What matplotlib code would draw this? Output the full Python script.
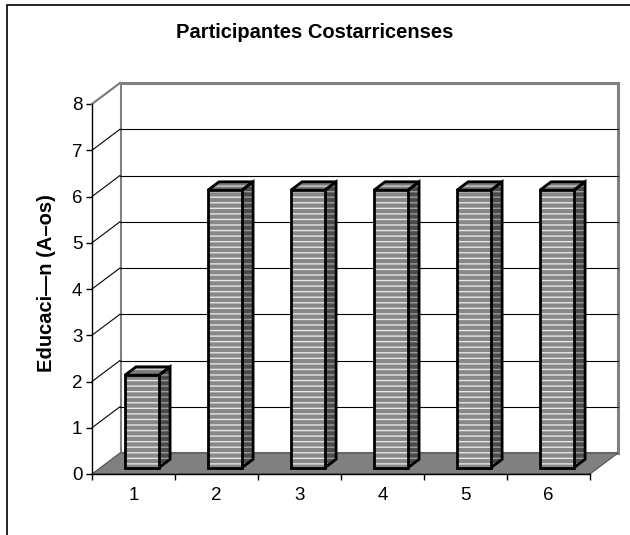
import matplotlib.pyplot as plt
from matplotlib.patches import Polygon, Rectangle

plt.rcParams['font.family'] = ['Liberation Sans', 'DejaVu Sans']

# data
categories = ['1', '2', '3', '4', '5', '6']
years = [2, 6, 6, 6, 6, 6]
y_ticks = [0, 1, 2, 3, 4, 5, 6, 7, 8]
title = 'Participantes Costarricenses'
ylabel = 'Educaci—n (A–os)'

# oblique 3d look: depth shift in data units
DX = 0.337
DY = 0.454
D0, D1 = 0.3, 0.7   # bar depth range
HW = 0.205          # half bar width
YMAX = 8
N = len(categories)


def proj(x, v, d):
    return x + d * DX, v + d * DY


def face(ax, pts, fc, hc, z):
    ax.add_patch(Polygon(pts, closed=True, facecolor=fc, edgecolor='none',
                         lw=0, zorder=z, clip_on=False))
    ax.add_patch(Polygon(pts, closed=True, fill=False, edgecolor=hc, lw=0,
                         hatch='---', zorder=z + 0.1, clip_on=False))
    ax.add_patch(Polygon(pts, closed=True, fill=False, edgecolor='black',
                         lw=2.0, joinstyle='miter', zorder=z + 0.2, clip_on=False))


fig = plt.figure(figsize=(6.3, 5.35), dpi=100)
ax = fig.add_axes([92 / 630, 61 / 535, 498 / 630, 370 / 535])
ax.set_xlim(0, N)
ax.set_ylim(0, YMAX)
ax.patch.set_visible(False)

# back wall
back = [proj(0, 0, 1), proj(N, 0, 1), proj(N, YMAX, 1), proj(0, YMAX, 1)]
ax.add_patch(Polygon(back, closed=True, facecolor='white', edgecolor='#808080',
                     lw=2.2, zorder=1, clip_on=False))

# left side wall
side_wall = [proj(0, 0, 0), proj(0, 0, 1), proj(0, YMAX, 1), proj(0, YMAX, 0)]
ax.add_patch(Polygon(side_wall, closed=True, facecolor='white', edgecolor='none',
                     zorder=1, clip_on=False))
ax.plot(*zip(proj(0, YMAX, 0), proj(0, YMAX, 1)), color='#808080', lw=1.6,
        zorder=2, clip_on=False)

# gridlines on back wall and side wall
for v in y_ticks[1:-1]:
    ax.plot(*zip(proj(0, v, 1), proj(N, v, 1)), color='black', lw=0.8,
            zorder=2, clip_on=False)
for v in y_ticks[1:-1]:
    ax.plot(*zip(proj(0, v, 0), proj(0, v, 1)), color='black', lw=0.8,
            zorder=2, clip_on=False)

# floor
floor = [proj(0, 0, 0), proj(N, 0, 0), proj(N, 0, 1), proj(0, 0, 1)]
ax.add_patch(Polygon(floor, closed=True, facecolor='#808080', edgecolor='#505050',
                     lw=0.8, zorder=3, clip_on=False))

# bars
for i, val in enumerate(years):
    x0 = i + 0.5 - HW
    x1 = i + 0.5 + HW
    side = [proj(x1, 0, D0), proj(x1, 0, D1), proj(x1, val, D1), proj(x1, val, D0)]
    top = [proj(x0, val, D0), proj(x1, val, D0), proj(x1, val, D1), proj(x0, val, D1)]
    front = [proj(x0, 0, D0), proj(x1, 0, D0), proj(x1, val, D0), proj(x0, val, D0)]
    face(ax, side, '#4a4a4a', '#9a9a9a', 5)
    face(ax, top, '#7a7a7a', '#c8c8c8', 5)
    face(ax, front, '#888888', '#e6e6e6', 6)

# axes, ticks
for s in ['top', 'right']:
    ax.spines[s].set_visible(False)
for s in ['left', 'bottom']:
    ax.spines[s].set_linewidth(1.0)
    ax.spines[s].set_zorder(4)
ax.set_yticks(y_ticks)
ax.set_yticklabels([str(t) for t in y_ticks], fontsize=13.5)
ax.set_xticks(range(N + 1))
ax.set_xticklabels([])
ax.set_xticks([i + 0.5 for i in range(N)], minor=True)
ax.set_xticklabels(categories, minor=True, fontsize=13.5)
ax.tick_params(axis='y', length=4, width=1.0, pad=3)
ax.tick_params(axis='x', which='major', length=4, width=1.0, direction='out')
ax.tick_params(axis='x', which='minor', length=0, pad=9)

fig.text(0.5, 1 - 33 / 535, title, ha='center', va='center',
         fontsize=14.5, fontweight='bold')
fig.text(47 / 630, 1 - 283 / 535, ylabel, ha='center', va='center',
         rotation=90, fontsize=14.5, fontweight='bold')

# outer frame
fig.patches.append(Rectangle((6.5 / 630, -0.1), 1.2, (535 - 4.5) / 535 + 0.1,
                             transform=fig.transFigure, fill=False,
                             edgecolor='black', lw=1.2))

fig.savefig('out.png', dpi=100)
